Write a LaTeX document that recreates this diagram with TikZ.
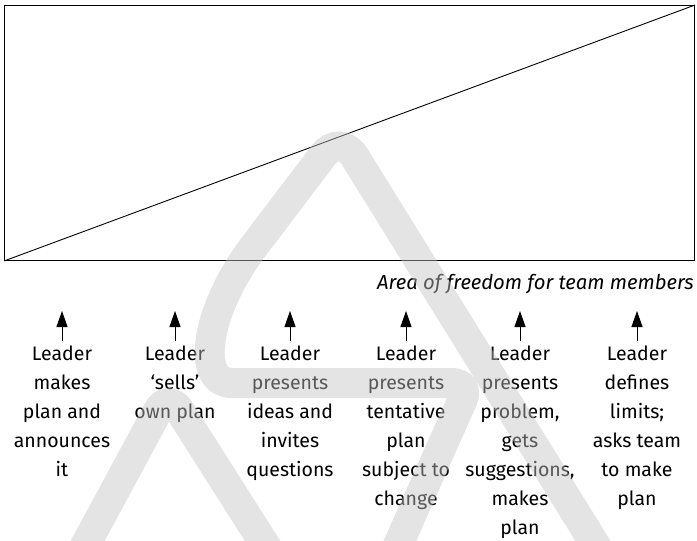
\documentclass[tikz,border=0pt]{standalone}
\usepackage{fontspec}
\setmainfont{Fira Sans}
\usetikzlibrary{arrows.meta}

\begin{document}
\begin{tikzpicture}[x=1pt, y=-1pt,
    leadtext/.style={align=center, inner sep=0pt, anchor=north, font=\fontsize{19.5pt}{29pt}\selectfont},
    uparrow/.style={-{Triangle[length=16pt, width=11pt]}, line width=0.9pt, shorten <=5pt}]
    % Define colors
    \definecolor{markgray}{RGB}{196,196,196}

    % Fix the page size
    \useasboundingbox (0,0) rectangle (697,541);

    % Draw the box and its diagonal
    \node[draw, line width=1pt, anchor=north west, inner sep=0pt, minimum width=690pt, minimum height=255pt] (box) at (4,5) {};
    \draw[line width=0.9pt] (box.south west) -- (box.north east);

    % Add the caption
    \node[anchor=base east, inner sep=0pt, font=\fontsize{20.3pt}{29pt}\selectfont\itshape] (freedom) at (694,289) {Area of freedom for team members};

    % Add the leader behaviours
    \node[leadtext] (lead1) at (62,346) {Leader\\makes\\plan and\\announces\\it};
    \node[leadtext] (lead2) at (175,346) {Leader\\‘sells’\\own plan};
    \node[leadtext] (lead3) at (290,346) {Leader\\presents\\ideas and\\invites\\questions};
    \node[leadtext] (lead4) at (406,346) {Leader\\presents\\tentative\\plan\\subject to\\change};
    \node[leadtext] (lead5) at (520,346) {Leader\\presents\\problem,\\gets\\suggestions,\\makes\\plan};
    \node[leadtext] (lead6) at (637,346) {Leader\\defines\\limits;\\asks team\\to make\\plan};

    % Add the arrows
    \coordinate (tip1) at (62,311);
    \coordinate (tip2) at (175,311);
    \coordinate (tip3) at (290,311);
    \coordinate (tip4) at (406,311);
    \coordinate (tip5) at (520,311);
    \coordinate (tip6) at (637,311);
    \draw[uparrow] (lead1.north) -- (tip1);
    \draw[uparrow] (lead2.north) -- (tip2);
    \draw[uparrow] (lead3.north) -- (tip3);
    \draw[uparrow] (lead4.north) -- (tip4);
    \draw[uparrow] (lead5.north) -- (tip5);
    \draw[uparrow] (lead6.north) -- (tip6);

    % Draw the watermark
    \draw[markgray, opacity=0.45, line width=30pt] (387,570) [rounded corners=18pt] -- (470,383) -- (250,383) [sharp corners] .. controls (195,383) and (205,310) .. (255,245) [rounded corners=28pt] -- (340,133) -- (611,570);
    \draw[markgray, opacity=0.45, line width=30pt] (72,570) [rounded corners=22pt] -- (168,392) -- (281,570);
\end{tikzpicture}
\end{document}
